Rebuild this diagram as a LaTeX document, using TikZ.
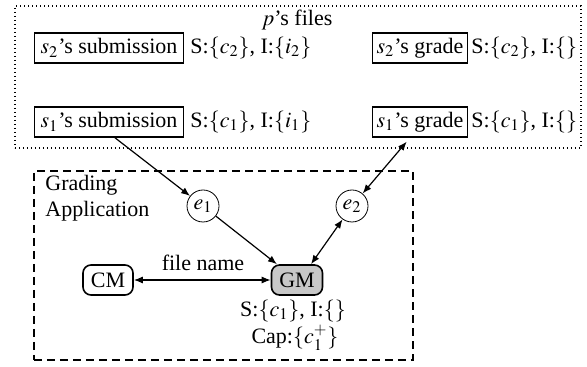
\documentclass[tikz,border=0pt]{standalone}
\usepackage{mathptmx}
\usepackage[no-math]{fontspec}
\setmainfont{Liberation Serif}
\usetikzlibrary{arrows.meta}
\begin{document}
\begin{tikzpicture}[x=0.5pt,y=-0.5pt,font=\fontsize{11}{13}\selectfont,
  filebox/.style={draw,thick,minimum height=15pt,inner sep=2pt},
  evt/.style={draw,circle,minimum size=16pt,inner sep=0pt},
  mod/.style={draw,thick,rounded corners=4pt,minimum height=15pt,minimum width=25pt,inner sep=2pt},
  lab/.style={anchor=west,inner sep=0pt},
  arr/.style={-{Latex[length=4.5pt,width=3.5pt]},semithick},
  barr/.style={{Latex[length=4.5pt,width=3.5pt]}-{Latex[length=4.5pt,width=3.5pt]},semithick}]
\useasboundingbox (0,0) rectangle (587,367);
\node[draw,thick,dash pattern=on 0.6pt off 1.4pt,minimum width=283pt,minimum height=71pt,anchor=north west] (files) at (14,5) {};
\node (ftitle) at (297,20) {$p$'s files};
\node[filebox,minimum width=74.5pt] (s2sub) at (109,48) {$s_2$'s submission};
\node[lab] (s2subl) at (190,48) {S:$\{c_2\}$, I:$\{i_2\}$};
\node[filebox,minimum width=74.5pt] (s1sub) at (109,122) {$s_1$'s submission};
\node[lab] (s1subl) at (190,122) {S:$\{c_1\}$, I:$\{i_1\}$};
\node[filebox,minimum width=45pt] (s2g) at (420,48) {$s_2$'s grade};
\node[lab] (s2gl) at (471,48) {S:$\{c_2\}$, I:$\{\}$};
\node[filebox,minimum width=45pt] (s1g) at (420,122) {$s_1$'s grade};
\node[lab] (s1gl) at (471,122) {S:$\{c_1\}$, I:$\{\}$};
\node[draw,thick,dash pattern=on 4pt off 2.5pt,minimum width=189.5pt,minimum height=94.5pt,anchor=north west] (app) at (33,170) {};
\node[anchor=north west,align=left,inner sep=0pt] (apptitle) at (45,175) {Grading\\Application};
\node[evt] (e1) at (203,206) {$e_1$};
\node[evt] (e2) at (352,206) {$e_2$};
\node[mod] (CM) at (108,280) {CM};
\node[mod,fill=black!22,minimum width=25.5pt] (GM) at (297,280) {GM};
\node (fn) at (203,263) {file name};
\node (gml) at (293,311) {S:$\{c_1\}$, I:$\{\}$};
\node (gmc) at (295,338) {Cap:$\{c_1^+\}$};
\draw[arr] ([xshift=3pt]s1sub.south) -- (e1);
\draw[arr] (e1) -- (GM);
\draw[barr] (e2) -- ([xshift=7pt]GM.north);
\draw[barr,shorten >=2.5pt] (e2) -- ([xshift=-5pt]s1g.south);
\draw[barr] (CM) -- (GM);
\end{tikzpicture}
\end{document}
